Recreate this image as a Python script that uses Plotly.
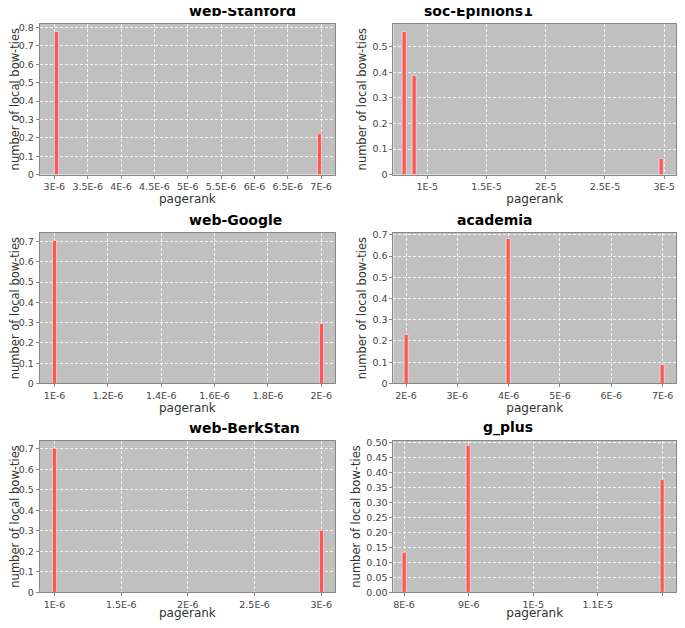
import plotly.graph_objects as go

W, H = 685, 628
PAD = 8  # browser body margin
FW, FH = W - 2 * PAD, H - 2 * PAD

titles = ["web-Stanford", "soc-Epinions1", "web-Google", "academia", "web-BerkStan", "g_plus"]

stanford_x = [3.03e-6, 6.98e-6]
stanford_y = [0.775, 0.222]
epinions_x = [8.1e-6, 8.9e-6, 2.98e-5]
epinions_y = [0.558, 0.385, 0.06]
google_x = [1.0e-6, 2.0e-6]
google_y = [0.703, 0.297]
academia_x = [2.0e-6, 4.0e-6, 7.0e-6]
academia_y = [0.23, 0.68, 0.09]
berkstan_x = [1.0e-6, 3.0e-6]
berkstan_y = [0.70, 0.30]
gplus_x = [8.0e-6, 9.0e-6, 1.2e-5]
gplus_y = [0.132, 0.49, 0.376]

stanford_ticks = [3e-6, 3.5e-6, 4e-6, 4.5e-6, 5e-6, 5.5e-6, 6e-6, 6.5e-6, 7e-6]
stanford_labels = ["3E-6", "3.5E-6", "4E-6", "4.5E-6", "5E-6", "5.5E-6", "6E-6", "6.5E-6", "7E-6"]
epinions_ticks = [1e-5, 1.5e-5, 2e-5, 2.5e-5, 3e-5]
epinions_labels = ["1E-5", "1.5E-5", "2E-5", "2.5E-5", "3E-5"]
google_ticks = [1e-6, 1.2e-6, 1.4e-6, 1.6e-6, 1.8e-6, 2e-6]
google_labels = ["1E-6", "1.2E-6", "1.4E-6", "1.6E-6", "1.8E-6", "2E-6"]
academia_ticks = [2e-6, 3e-6, 4e-6, 5e-6, 6e-6, 7e-6]
academia_labels = ["2E-6", "3E-6", "4E-6", "5E-6", "6E-6", "7E-6"]
berkstan_ticks = [1e-6, 1.5e-6, 2e-6, 2.5e-6, 3e-6]
berkstan_labels = ["1E-6", "1.5E-6", "2E-6", "2.5E-6", "3E-6"]
gplus_ticks = [8e-6, 9e-6, 1e-5, 1.1e-5, 1.2e-5]
gplus_labels = ["8E-6", "9E-6", "1E-5", "1.1E-5", "1.2E-5"]

panels = [
    (stanford_x, stanford_y, stanford_ticks, stanford_labels, [2.78e-6, 7.21e-6], [0, 0.82], 0.1, None),
    (epinions_x, epinions_y, epinions_ticks, epinions_labels, [7.14e-6, 3.1e-5], [0, 0.59], 0.1, None),
    (google_x, google_y, google_ticks, google_labels, [0.944e-6, 2.052e-6], [0, 0.744], 0.1, None),
    (academia_x, academia_y, academia_ticks, academia_labels, [1.755e-6, 7.26e-6], [0, 0.71], 0.1, None),
    (berkstan_x, berkstan_y, berkstan_ticks, berkstan_labels, [0.889e-6, 3.104e-6], [0, 0.74], 0.1, None),
    (gplus_x, gplus_y, gplus_ticks, gplus_labels, [7.835e-6, 1.221e-5], [0, 0.507], 0.05, ".2f"),
]


def px_x(p):
    return (p - PAD) / FW


def px_y(p):
    return 1 - (p - PAD) / FH


xdoms = [[px_x(33), px_x(332)], [px_x(391), min(1, px_x(683))]]
ydoms = [[px_y(173), px_y(20)], [px_y(385), px_y(232)], [px_y(597), px_y(443)]]

fig = go.Figure()
font = "DejaVu Sans, Arial, sans-serif"

for i, (xs, ys, tv, tt, xr, yr, dy, yfmt) in enumerate(panels):
    n = "" if i == 0 else str(i + 1)
    col, row = i % 2, i // 2
    xd, yd = xdoms[col], ydoms[row]
    pxw = (xd[1] - xd[0]) * FW
    bw = 4 * (xr[1] - xr[0]) / pxw
    fig.add_trace(go.Bar(x=xs, y=ys, width=bw, marker=dict(color="#ff5555", line=dict(color="white", width=0.5)),
                         xaxis="x" + n, yaxis="y" + n, showlegend=False))
    axis_common = dict(showgrid=True, gridcolor="rgba(255,255,255,0.8)", griddash="3px,2px", gridwidth=0.6,
                       zeroline=False, showline=True, linecolor="#888", mirror=True,
                       ticks="outside", ticklen=3, tickcolor="#888",
                       tickfont=dict(size=9.5, color="#444", family=font))
    fig.layout["xaxis" + n] = dict(domain=xd, anchor="y" + n, range=xr, tickvals=tv, ticktext=tt,
                                  title=dict(text="pagerank", standoff=2, font=dict(size=12, color="#333", family=font)),
                                  **axis_common)
    fig.layout["yaxis" + n] = dict(domain=yd, anchor="x" + n, range=yr, dtick=dy, tickformat=yfmt,
                                  title=dict(text="number of local bow-ties", standoff=3,
                                             font=dict(size=11.5, color="#333", family=font)),
                                  **axis_common)
    fig.add_annotation(text="<b>" + titles[i] + "</b>", xref="paper", yref="paper",
                       x=(xd[0] + xd[1]) / 2, y=yd[1] + 3 / FH, yanchor="bottom", showarrow=False,
                       font=dict(size=14, color="black", family=font))

fig.update_layout(width=FW, height=FH, margin=dict(l=0, r=0, t=0, b=0),
                  plot_bgcolor="#c0c0c0", paper_bgcolor="white", bargap=0)

fig.write_html("out.html")
